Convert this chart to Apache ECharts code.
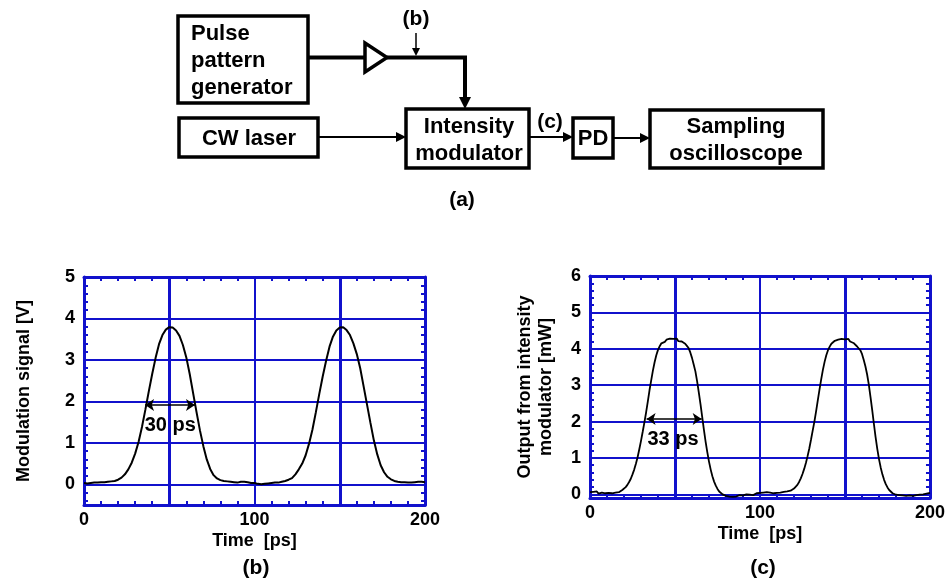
<!DOCTYPE html>
<html>
<head>
<meta charset="utf-8">
<script src="https://cdn.jsdelivr.net/npm/echarts@6/dist/echarts.min.js"></script>
<style>html,body{margin:0;padding:0;background:#fff}#c{width:948px;height:586px}</style>
</head>
<body>
<div id="c"></div>
<script>
// ---------- data ----------
// (b) modulation signal [V], sampled every 2 ps from 0 to 200 ps
const timeB = [];
for (let t = 0; t <= 200; t += 2) timeB.push(t);
const signalB = [
  0.03,0.02,0.03,0.04,0.04,0.05,0.05,0.06,0.07,0.08,
  0.11,0.16,0.24,0.36,0.52,0.74,1.02,1.38,1.80,2.24,
  2.66,3.05,3.38,3.60,3.73,3.79,3.78,3.71,3.58,3.36,
  3.06,2.66,2.20,1.74,1.30,0.92,0.60,0.37,0.22,0.14,
  0.10,0.08,0.07,0.06,0.05,0.04,0.06,0.06,0.05,0.03,
  0.03,0.01,0.00,0.01,0.02,0.03,0.04,0.04,0.06,0.08,
  0.11,0.15,0.24,0.36,0.50,0.70,0.98,1.32,1.74,2.18,
  2.60,2.98,3.32,3.56,3.71,3.78,3.79,3.72,3.60,3.40,
  3.14,2.80,2.36,1.92,1.48,1.06,0.72,0.46,0.29,0.18,
  0.12,0.08,0.06,0.05,0.05,0.04,0.04,0.05,0.06,0.06,
  0.05
];
// (c) output from intensity modulator [mW], sampled every 1 ps from 0 to 200 ps
const timeC = [];
for (let t = 0; t <= 200; t += 1) timeC.push(t);
const outputC = [
  0.06,0.03,0.07,0.04,0.08,0.02,0.06,0.05,0.09,0.03,
  0.06,0.04,0.07,0.03,0.06,0.05,0.08,0.06,0.09,0.12,
  0.15,0.20,0.26,0.34,0.43,0.55,0.68,0.84,1.02,1.24,
  1.47,1.72,1.98,2.25,2.55,2.86,3.13,3.40,3.63,3.82,
  3.97,4.07,4.15,4.20,4.19,4.25,4.22,4.28,4.23,4.27,
  4.24,4.28,4.21,4.25,4.20,4.18,4.14,4.08,4.02,3.90,
  3.75,3.57,3.38,3.11,2.80,2.48,2.13,1.78,1.45,1.16,
  0.90,0.68,0.50,0.35,0.24,0.15,0.08,0.04,0.00,-0.02,
  -0.04,-0.03,-0.06,-0.04,-0.07,-0.03,-0.06,-0.05,-0.02,-0.06,
  -0.03,-0.04,0.00,-0.03,-0.01,0.02,-0.02,0.01,0.03,0.00,
  0.04,0.02,0.05,0.03,0.06,0.02,0.05,0.07,0.03,0.06,
  0.04,0.07,0.05,0.03,0.07,0.05,0.08,0.07,0.10,0.12,
  0.16,0.20,0.26,0.34,0.44,0.56,0.70,0.86,1.05,1.26,
  1.50,1.75,2.00,2.28,2.58,2.88,3.16,3.42,3.64,3.82,
  3.96,4.06,4.14,4.17,4.22,4.19,4.25,4.21,4.27,4.22,
  4.26,4.23,4.27,4.20,4.22,4.16,4.12,4.07,4.03,3.96,
  3.86,3.70,3.52,3.30,3.02,2.68,2.32,1.94,1.57,1.25,
  0.97,0.74,0.55,0.40,0.28,0.19,0.12,0.07,0.03,0.01,
  -0.01,0.01,-0.02,0.00,-0.03,0.00,-0.04,-0.01,-0.03,-0.02,
  -0.04,0.00,-0.02,0.01,-0.01,0.02,0.00,0.03,0.02,0.05,
  0.04
];
// tick labels
const xLabels = [0, 100, 200];
const yLabelsB = [0, 1, 2, 3, 4, 5];
const yLabelsC = [0, 1, 2, 3, 4, 5, 6];
// width annotations: [x start, x end, y level, label]
const widthB = [35.8, 65.1, 1.91, '30 ps'];
const widthC = [33.3, 65.7, 2.07, '33 ps'];
const widthLabelPosB = [50.6, 1.43];
const widthLabelPosC = [48.8, 1.52];
// grid line positions
const vGrid = [50, 100, 150];

// ---------- helpers ----------
const BLUE = '#1111cc';
const FONT = '"Liberation Sans", Arial, sans-serif';
function range(a, b, s) { const r = []; for (let v = a; v <= b + 1e-9; v += s) r.push(Math.round(v * 1000) / 1000); return r; }
const xTicks = range(0, 200, 10);
const yTicksB = range(-0.4, 5, 0.2);
const yTicksC = range(0, 6, 0.2);

function xAxisDef(gridIndex, pos, showLabels) {
  return {
    type: 'value', gridIndex, position: pos, min: 0, max: 200,
    axisLine: { show: true, onZero: false, lineStyle: { color: BLUE, width: 3 } },
    axisTick: { show: true, inside: true, length: 4, customValues: xTicks, lineStyle: { color: BLUE, width: 2 } },
    axisLabel: { show: showLabels, customValues: xLabels, color: '#000', fontSize: 18, fontWeight: 'bold', fontFamily: FONT, margin: 6 },
    splitLine: { show: false },
    name: showLabels ? 'Time  [ps]' : '', nameLocation: 'middle', nameGap: 27,
    nameTextStyle: { color: '#000', fontSize: 18, fontWeight: 'bold', fontFamily: FONT }
  };
}
function yAxisDef(gridIndex, pos, min, max, ticks, labels, name, nameGap) {
  const show = pos === 'left';
  return {
    type: 'value', gridIndex, position: pos, min, max,
    axisLine: { show: true, onZero: false, lineStyle: { color: BLUE, width: 3 } },
    axisTick: { show: true, inside: true, length: 4, customValues: ticks, lineStyle: { color: BLUE, width: 2 } },
    axisLabel: { show, customValues: labels, color: '#000', fontSize: 18, fontWeight: 'bold', fontFamily: FONT, margin: 9 },
    splitLine: { show: false },
    name: show ? name : '', nameLocation: 'middle', nameGap, nameRotate: 90,
    nameTextStyle: { color: '#000', fontSize: 18, fontWeight: 'bold', fontFamily: FONT, lineHeight: 21, align: 'center' }
  };
}
function gridSeries(xi, yi, hVals) {
  const d = [];
  hVals.forEach(v => d.push({ yAxis: v, lineStyle: { width: 2 } }));
  vGrid.forEach(v => d.push({ xAxis: v, lineStyle: { width: v === 100 ? 2 : 3 } }));
  return {
    type: 'line', xAxisIndex: xi, yAxisIndex: yi, data: [[0, 0]], symbol: 'none',
    lineStyle: { opacity: 0 }, z: 1, silent: true,
    markLine: { silent: true, symbol: ['none', 'none'], label: { show: false },
      lineStyle: { color: BLUE, type: 'solid' }, emphasis: { disabled: true }, data: d, animation: false }
  };
}
function dataSeries(xi, yi, xs, ys, w, lp, width) {
  return {
    type: 'line', xAxisIndex: xi, yAxisIndex: yi, symbol: 'none', z: 5, silent: true,
    data: xs.map((t, i) => [t, ys[i]]),
    lineStyle: { color: '#000', width: width },
    markLine: {
      silent: true, symbol: ['arrow', 'arrow'], symbolSize: [9, 9], label: { show: false },
      lineStyle: { color: '#000', width: 1.5, type: 'solid' }, emphasis: { disabled: true },
      data: [[{ coord: [w[0], w[2]] }, { coord: [w[1], w[2]] }]]
    },
    markPoint: {
      silent: true, symbol: 'circle', symbolSize: 1, itemStyle: { color: 'rgba(0,0,0,0)' },
      label: { show: true, position: 'inside', formatter: w[3], color: '#000', fontSize: 20, fontWeight: 'bold', fontFamily: FONT },
      data: [{ coord: lp }]
    }
  };
}

// ---------- diagram (a) ----------
const txt = (x, y, text, size, lh) => ({ type: 'text', x, y, z: 10,
  style: { text, fill: '#000', font: 'bold ' + size + 'px ' + FONT, align: 'center', verticalAlign: 'middle', lineHeight: lh || size } });
const box = (x, y, w, h) => ({ type: 'rect', z: 9, shape: { x, y, width: w, height: h }, style: { fill: '#fff', stroke: '#000', lineWidth: 3.5 } });
const ln = (x1, y1, x2, y2, w) => ({ type: 'line', z: 8, shape: { x1, y1, x2, y2 }, style: { stroke: '#000', lineWidth: w } });
const head = (pts) => ({ type: 'polygon', z: 9, shape: { points: pts }, style: { fill: '#000' } });

const graphics = [
  box(178, 16, 130, 87),
  { type: 'text', x: 191, y: 61, z: 10, style: { text: 'Pulse\npattern\ngenerator', fill: '#000', font: 'bold 22px ' + FONT, align: 'left', verticalAlign: 'middle', lineHeight: 27 } },
  ln(308, 57.5, 366, 57.5, 4),
  { type: 'polygon', z: 9, shape: { points: [[365, 43], [365, 72], [387, 57.5]] }, style: { fill: '#fff', stroke: '#000', lineWidth: 3.5 } },
  { type: 'polyline', z: 8, shape: { points: [[387, 57.5], [465, 57.5], [465, 99]] }, style: { stroke: '#000', lineWidth: 4, fill: null } },
  head([[459, 97], [471, 97], [465, 109]]),
  txt(416, 19, '(b)', 21),
  ln(416, 33, 416, 50, 1.5),
  head([[412, 48], [420, 48], [416, 56]]),
  box(179, 118, 139, 39),
  txt(249, 139, 'CW laser', 22),
  ln(318, 137, 398, 137, 2),
  head([[396, 132], [396, 142], [406, 137]]),
  box(406, 109, 123, 59),
  txt(469, 140, 'Intensity\nmodulator', 22, 27),
  ln(529, 137, 565, 137, 2),
  head([[563, 132], [563, 142], [573, 137]]),
  txt(550, 122, '(c)', 21),
  box(573, 118, 40, 40),
  txt(593, 139, 'PD', 22),
  ln(613, 138, 642, 138, 2),
  head([[640, 133], [640, 143], [650, 138]]),
  box(650, 110, 173, 58),
  txt(736, 140, 'Sampling\noscilloscope', 22, 27),
  txt(462, 200, '(a)', 21),
  txt(256, 568, '(b)', 21),
  txt(763, 568, '(c)', 21)
];

// ---------- chart ----------
const chart = echarts.init(document.getElementById('c'), null, { renderer: 'canvas' });
chart.setOption({
  animation: false,
  backgroundColor: '#fff',
  textStyle: { fontFamily: FONT },
  grid: [
    { left: 84, top: 277, width: 341, height: 228 },
    { left: 590, top: 276, width: 340, height: 222 }
  ],
  xAxis: [
    xAxisDef(0, 'bottom', true), xAxisDef(0, 'top', false),
    xAxisDef(1, 'bottom', true), xAxisDef(1, 'top', false)
  ],
  yAxis: [
    yAxisDef(0, 'left', -0.5, 5, yTicksB, yLabelsB, 'Modulation signal [V]', 49),
    yAxisDef(0, 'right', -0.5, 5, yTicksB, yLabelsB, '', 0),
    yAxisDef(1, 'left', -0.1, 6, yTicksC, yLabelsC, 'Output from intensity\nmodulator [mW]', 33),
    yAxisDef(1, 'right', -0.1, 6, yTicksC, yLabelsC, '', 0)
  ],
  series: [
    gridSeries(0, 0, yLabelsB),
    gridSeries(2, 2, yLabelsC.slice(0, 6)),
    dataSeries(0, 0, timeB, signalB, widthB, widthLabelPosB, 2),
    dataSeries(2, 2, timeC, outputC, widthC, widthLabelPosC, 1.8)
  ],
  graphic: graphics
});
</script>
</body>
</html>
